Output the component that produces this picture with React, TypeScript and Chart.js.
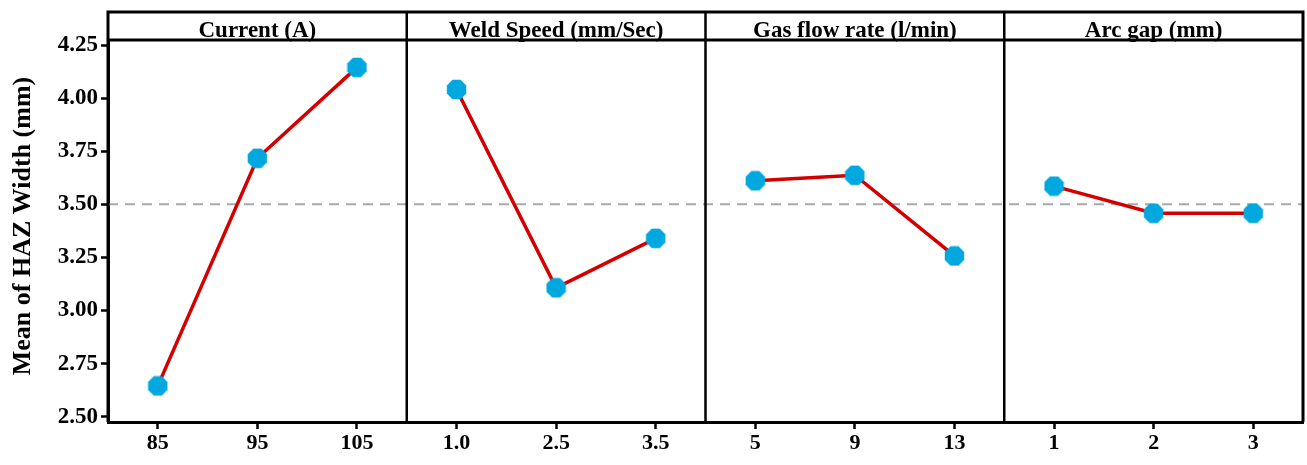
import React, { useEffect, useRef } from "react";
import { Chart, registerables } from "chart.js";

Chart.register(...registerables);

// ---- data ----
const panelTitles = ["Current (A)", "Weld Speed (mm/Sec)", "Gas flow rate (l/min)", "Arc gap (mm)"];
const currentLevels = ["85", "95", "105"];
const currentMeans = [2.645, 3.717, 4.145];
const weldSpeedLevels = ["1.0", "2.5", "3.5"];
const weldSpeedMeans = [4.041, 3.107, 3.34];
const gasFlowLevels = ["5", "9", "13"];
const gasFlowMeans = [3.611, 3.637, 3.257];
const arcGapLevels = ["1", "2", "3"];
const arcGapMeans = [3.586, 3.458, 3.458];
const grandMean = 3.5;
const yTicks = [2.5, 2.75, 3.0, 3.25, 3.5, 3.75, 4.0, 4.25];
const yTitle = "Mean of HAZ Width (mm)";

const panelLevels = [currentLevels, weldSpeedLevels, gasFlowLevels, arcGapLevels];
const panelMeans = [currentMeans, weldSpeedMeans, gasFlowMeans, arcGapMeans];

const FONT = "'Liberation Serif', 'Times New Roman', serif";
const LINE_RED = "#d40000";
const POINT_BLUE = "#00a8df";

function makeOctagon(size: number, color: string): HTMLCanvasElement {
  const c = document.createElement("canvas");
  c.width = size;
  c.height = size;
  const ctx = c.getContext("2d")!;
  const r = size / 2;
  ctx.fillStyle = color;
  ctx.beginPath();
  for (let k = 0; k < 8; k++) {
    const a = Math.PI / 8 + (k * Math.PI) / 4;
    const px = r + r * Math.cos(a);
    const py = r + r * Math.sin(a);
    if (k === 0) ctx.moveTo(px, py);
    else ctx.lineTo(px, py);
  }
  ctx.closePath();
  ctx.fill();
  return c;
}

export default function App() {
  const ref = useRef<HTMLCanvasElement | null>(null);

  useEffect(() => {
    document.body.style.margin = "0";
    const canvas = ref.current!;
    const nPanels = panelLevels.length;
    const perPanel = 3;
    const xMax = nPanels * perPanel;
    const xTickPos: number[] = [];
    const xTickLabels: string[] = [];
    panelLevels.forEach((lv, p) =>
      lv.forEach((l, i) => {
        xTickPos.push(p * perPanel + i + 0.5);
        xTickLabels.push(l);
      })
    );

    const octagon = makeOctagon(21, POINT_BLUE);

    const datasets: any[] = panelMeans.map((means, p) => ({
      type: "line",
      data: means.map((v, i) => ({ x: p * perPanel + i + 0.5, y: v })),
      borderColor: LINE_RED,
      borderWidth: 3.5,
      pointStyle: octagon,
      pointRadius: 10,
      pointBackgroundColor: POINT_BLUE,
      pointBorderWidth: 0,
      order: 1,
    }));
    datasets.push({
      type: "line",
      data: [
        { x: 0, y: grandMean },
        { x: xMax, y: grandMean },
      ],
      borderColor: "#a9a9a9",
      borderWidth: 2,
      borderDash: [10, 7],
      pointRadius: 0,
      order: 10,
    });

    const framePlugin = {
      id: "frame",
      afterDraw(chart: any) {
        const { ctx, chartArea, scales } = chart;
        const { left, right, top, bottom } = chartArea;
        const headerTop = 12;
        ctx.save();
        ctx.strokeStyle = "#000";
        ctx.lineWidth = 3;
        ctx.beginPath();
        ctx.moveTo(left, bottom);
        ctx.lineTo(left, headerTop);
        ctx.lineTo(right, headerTop);
        ctx.lineTo(right, bottom);
        ctx.moveTo(left, top);
        ctx.lineTo(right, top);
        ctx.stroke();
        ctx.lineWidth = 2.5;
        ctx.beginPath();
        for (let p = 1; p < nPanels; p++) {
          const x = scales.x.getPixelForValue(p * perPanel);
          ctx.moveTo(x, headerTop);
          ctx.lineTo(x, bottom);
        }
        ctx.stroke();
        ctx.fillStyle = "#000";
        ctx.font = `bold 23px ${FONT}`;
        ctx.textAlign = "center";
        ctx.textBaseline = "alphabetic";
        panelTitles.forEach((t, p) => {
          const cx = scales.x.getPixelForValue(p * perPanel + perPanel / 2);
          ctx.fillText(t, cx, top - 3);
        });
        ctx.translate(23, 226);
        ctx.rotate(-Math.PI / 2);
        ctx.font = `bold 26px ${FONT}`;
        ctx.textBaseline = "middle";
        ctx.fillText(yTitle, 0, 0);
        ctx.restore();
      },
    };

    const chart = new Chart(canvas, {
      type: "line",
      data: { datasets },
      options: {
        animation: false,
        responsive: false,
        layout: { autoPadding: false, padding: { top: 40, right: 4, left: 0, bottom: 0 } },
        plugins: { legend: { display: false }, tooltip: { enabled: false } },
        scales: {
          x: {
            type: "linear",
            min: 0,
            max: xMax,
            afterBuildTicks: (scale: any) => {
              scale.ticks = xTickPos.map((v) => ({ value: v }));
            },
            afterFit: (scale: any) => {
              scale.height = 43;
              scale.paddingLeft = 0;
              scale.paddingRight = 0;
            },
            grid: {
              drawOnChartArea: false,
              drawTicks: true,
              tickLength: 7,
              tickColor: "#000",
              tickWidth: 2.5,
            },
            border: { color: "#000", width: 3 },
            ticks: {
              autoSkip: false,
              maxRotation: 0,
              padding: 1,
              color: "#000",
              font: { family: FONT, size: 22, weight: "bold" },
              callback: (_v: any, i: number) => xTickLabels[i],
            },
          },
          y: {
            type: "linear",
            min: 2.475,
            max: 4.274,
            afterBuildTicks: (scale: any) => {
              scale.ticks = yTicks.map((v) => ({ value: v }));
            },
            afterFit: (scale: any) => {
              scale.width = 108;
            },
            grid: {
              drawOnChartArea: false,
              drawTicks: true,
              tickLength: 7,
              tickColor: "#000",
              tickWidth: 2.5,
            },
            border: { color: "#000", width: 3 },
            ticks: {
              padding: 3,
              color: "#000",
              font: { family: FONT, size: 23, weight: "bold" },
              callback: (v: any) => Number(v).toFixed(2),
            },
          },
        },
      },
      plugins: [framePlugin],
    } as any);

    return () => chart.destroy();
  }, []);

  return (
    <div style={{ width: 1307, height: 465, background: "#fff" }}>
      <canvas ref={ref} width={1307} height={465} style={{ display: "block" }} />
    </div>
  );
}
